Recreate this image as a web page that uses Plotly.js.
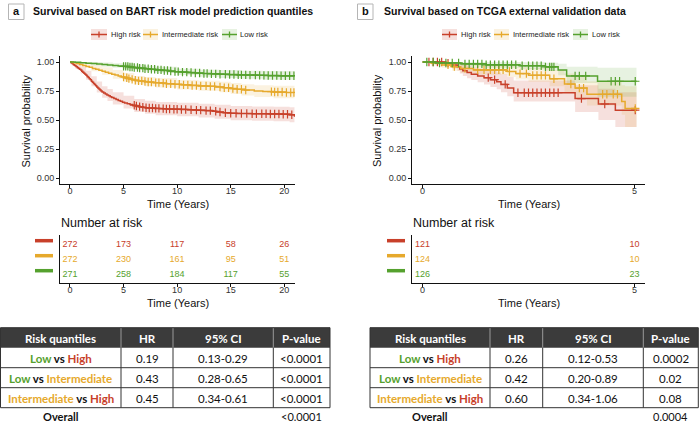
<!DOCTYPE html>
<html><head><meta charset="utf-8">
<script src="https://cdn.plot.ly/plotly-3.0.1.min.js"></script>
<style>html,body{margin:0;padding:0;background:#fff}#chart{width:700px;height:423px}</style>
</head><body><div id="chart"></div>
<script>
// ---------- Panel a: BART risk quantiles (Kaplan-Meier) ----------
const aHighT = [0,0.1,0.2,0.3,0.4,0.5,0.6,0.7,0.8,0.9,1.0,1.1,1.2,1.3,1.4,1.5,1.6,1.7,1.8,1.9,2.0,2.1,2.2,2.3,2.4,2.5,2.6,2.7,2.8,2.9,3.0,3.15,3.3,3.45,3.6,3.75,3.9,4.1,4.3,4.5,4.7,4.9,5.1,5.35,5.6,5.85,6.1,6.4,6.7,7.0,7.4,7.9,8.4,9.0,9.6,10.3,11.0,11.8,12.6,13.3,13.7,14.3,15.0,15.6,17.0,18.6,19.8,20.5,20.95];
const aHighS = [1.0,0.993,0.986,0.979,0.972,0.965,0.958,0.951,0.944,0.937,0.93,0.921,0.912,0.903,0.894,0.886,0.876,0.866,0.856,0.846,0.835,0.825,0.815,0.805,0.795,0.785,0.776,0.767,0.758,0.749,0.741,0.732,0.724,0.716,0.708,0.701,0.694,0.685,0.677,0.669,0.661,0.654,0.647,0.64,0.633,0.627,0.621,0.615,0.61,0.606,0.603,0.6,0.598,0.595,0.593,0.591,0.588,0.585,0.581,0.575,0.569,0.563,0.558,0.556,0.554,0.552,0.55,0.545,0.527];
const aHighBandT = [0,0.5,1,1.5,2,2.5,3,3.5,4,5,6,7,8,10,12,13.5,15,17,19,20.5,20.95];
const aHighLo = [1,0.945,0.9,0.848,0.792,0.738,0.691,0.664,0.634,0.6,0.57,0.553,0.542,0.532,0.522,0.51,0.497,0.494,0.49,0.48,0.46];
const aHighHi = [1,0.985,0.96,0.924,0.878,0.832,0.791,0.768,0.74,0.708,0.681,0.665,0.656,0.648,0.64,0.632,0.62,0.616,0.614,0.61,0.6];
const aHighCens = [6.0,6.2,6.5,6.8,7.1,7.4,7.7,8.0,8.3,8.7,9.0,9.3,9.7,10.0,10.4,10.8,11.3,11.8,12.2,12.7,13.1,13.6,14.0,14.5,15.0,15.5,16.0,16.5,17.0,17.4,17.9,18.3,18.7,19.1,19.5,19.9,20.3,20.7];

const aInterT = [0,0.3,0.6,0.9,1.2,1.5,1.8,2.1,2.4,2.7,3.0,3.3,3.6,3.9,4.2,4.5,4.8,5.1,5.4,5.7,6.0,6.4,6.8,7.3,7.8,8.4,9.0,9.7,10.4,11.2,12.0,12.8,13.6,14.3,15.0,15.6,16.3,17.2,18.0,19.0,20.2,20.95];
const aInterS = [1.0,0.993,0.986,0.978,0.97,0.962,0.954,0.945,0.937,0.929,0.921,0.912,0.903,0.895,0.887,0.879,0.871,0.864,0.857,0.85,0.843,0.837,0.832,0.827,0.822,0.818,0.813,0.808,0.803,0.798,0.794,0.79,0.785,0.778,0.771,0.765,0.758,0.75,0.745,0.741,0.737,0.733];
const aInterBandT = [0,0.5,1,2,3,4,5,6,7,8,10,12,14,15,16,17.2,19,20.95];
const aInterLo = [1,0.978,0.96,0.92,0.89,0.855,0.83,0.805,0.79,0.78,0.762,0.752,0.74,0.725,0.712,0.698,0.688,0.675];
const aInterHi = [1,1,0.995,0.975,0.955,0.93,0.905,0.88,0.87,0.862,0.845,0.838,0.83,0.818,0.808,0.8,0.795,0.79];
const aInterCens = [5.0,5.3,5.5,5.8,6.1,6.4,6.7,7.0,7.3,7.6,8.0,8.3,8.7,9.0,9.4,9.8,10.2,10.6,11.0,11.4,11.8,12.2,12.7,13.1,13.5,14.0,14.4,14.8,15.2,15.6,16.0,16.4,18.8,19.1,19.4,19.8,20.2,20.6,20.9];

const aLowT = [0,0.5,1.0,1.5,2.0,2.5,3.0,3.5,4.0,4.5,5.0,5.5,6.0,6.5,7.0,7.5,8.0,8.6,9.2,9.8,10.4,11.0,11.7,12.4,13.2,14.0,14.8,15.6,16.5,17.5,18.5,19.5,20.95];
const aLowS = [1.0,0.997,0.994,0.99,0.986,0.982,0.978,0.974,0.97,0.966,0.962,0.957,0.952,0.947,0.942,0.937,0.932,0.927,0.922,0.917,0.913,0.909,0.905,0.901,0.898,0.895,0.892,0.889,0.887,0.885,0.883,0.881,0.879];
const aLowBandT = [0,1,2,3,4,5,6,7,8,10,12,14,16,18,20.95];
const aLowLo = [1,0.985,0.972,0.958,0.95,0.94,0.93,0.918,0.908,0.888,0.872,0.862,0.855,0.848,0.835];
const aLowHi = [1,1,1,0.996,0.99,0.985,0.978,0.968,0.96,0.942,0.934,0.93,0.925,0.922,0.92];
const aLowCens = [5.0,5.2,5.4,5.6,5.8,6.0,6.3,6.5,6.8,7.0,7.3,7.6,7.9,8.2,8.5,8.8,9.1,9.4,9.8,10.1,10.5,10.9,11.3,11.7,12.1,12.5,12.8,13.2,13.6,14.0,14.5,14.9,15.3,15.7,16.0,16.4,16.8,17.3,17.7,18.1,18.5,18.9,19.3,19.7,20.1,20.5,20.9];

const aRiskTimes = [0,5,10,15,20];
const aRiskHigh = [272,173,117,58,26];
const aRiskInter = [272,230,161,95,51];
const aRiskLow = [271,258,184,117,55];

// ---------- Panel b: TCGA external validation ----------
const bHighT = [0,0.55,0.7,0.82,0.88,0.95,1.05,1.15,1.3,1.45,1.6,1.75,1.85,2.0,2.15,3.6,4.15,4.55,5.05];
const bHighS = [1,0.99,0.975,0.96,0.94,0.925,0.91,0.895,0.88,0.865,0.848,0.83,0.807,0.775,0.735,0.685,0.638,0.585,0.585];
const bHighLo = [1,0.97,0.945,0.925,0.9,0.88,0.86,0.845,0.825,0.805,0.785,0.765,0.74,0.705,0.66,0.57,0.5,0.44,0.44];
const bHighHi = [1,1,1,0.995,0.985,0.975,0.965,0.955,0.945,0.935,0.925,0.91,0.895,0.87,0.84,0.8,0.77,0.74,0.74];
const bHighCens = [0.15,0.25,0.35,0.45,0.6,1.55,1.7,1.95,2.25,2.4,2.5,2.6,2.7,2.8,2.9,3.0,3.1,3.2,3.75,4.3,5.02];

const bInterT = [0,0.2,0.45,0.7,0.9,1.2,2.0,2.2,2.5,3.0,3.35,3.6,3.88,4.7,4.78,5.05];
const bInterS = [1,0.99,0.975,0.96,0.945,0.932,0.918,0.9,0.885,0.855,0.81,0.775,0.722,0.66,0.6,0.6];
const bInterLo = [1,0.97,0.95,0.925,0.905,0.89,0.87,0.85,0.83,0.79,0.735,0.69,0.625,0.545,0.44,0.44];
const bInterHi = [1,1,1,0.997,0.99,0.98,0.97,0.96,0.95,0.93,0.9,0.875,0.835,0.8,0.79,0.79];
const bInterCens = [0.6,0.75,1.0,1.3,1.45,1.6,1.7,1.8,1.9,2.05,2.3,2.45,2.6,2.7,2.8,2.9,3.1,3.5,3.7,3.8,4.25,4.35,4.5,4.6,5.02];

const bLowT = [0,0.3,0.9,1.5,2.3,2.9,3.2,3.4,4.13,5.05];
const bLowS = [1,0.992,0.984,0.976,0.968,0.958,0.93,0.88,0.834,0.834];
const bLowLo = [1,0.977,0.962,0.95,0.937,0.925,0.885,0.82,0.7,0.7];
const bLowHi = [1,1,1,1,0.998,0.993,0.985,0.96,0.95,0.95];
const bLowCens = [0.1,0.25,0.4,0.55,0.7,0.85,1.0,1.1,1.2,1.3,1.4,1.5,1.6,1.7,1.8,1.9,2.0,2.1,2.2,2.35,2.5,2.6,2.7,2.8,2.9,3.0,3.05,3.1,3.6,3.7,3.85,4.45,4.55,4.65,5.02];

const bRiskTimes = [0,5];
const bRiskHigh = [121,10];
const bRiskInter = [124,10];
const bRiskLow = [126,23];

// ---------- Hazard ratio tables ----------
const tblCols = ['Risk quantiles','HR','95% CI','P-value'];
const compFirst = ['Low','Low','Intermediate'];
const compSecond = ['High','Intermediate','High'];
const aHR = ['0.19','0.43','0.45'];
const aCI = ['0.13-0.29','0.28-0.65','0.34-0.61'];
const aP = ['&lt;0.0001','&lt;0.0001','&lt;0.0001'];
const aOverall = '&lt;0.0001';
const bHR = ['0.26','0.42','0.60'];
const bCI = ['0.12-0.53','0.20-0.89','0.34-1.06'];
const bP = ['0.0002','0.02','0.08'];
const bOverall = '0.0004';

const stratNames = ['High risk','Intermediate risk','Low risk'];

// ---------- styling ----------
const RED = '#C8402A', YEL = '#E6A92C', GRN = '#55A12E';
const FILL = {[RED]:'rgba(200,64,42,0.16)', [YEL]:'rgba(230,169,44,0.15)', [GRN]:'rgba(85,161,46,0.14)'};
const colorOf = {'High':RED,'Intermediate':YEL,'Low':GRN};
const W = 700, H = 423;
const px = x => x / W, py = y => 1 - y / H;
const TXT = 'Liberation Sans, Arial, sans-serif';
const TBL = 'Lato, sans-serif';

function stepVal(T, S, t) { let v = S[0]; for (let i = 0; i < T.length; i++) if (T[i] <= t) v = S[i]; return v; }

const traces = [];
function addBand(xa, ya, BT, LO, HI, col) {
  traces.push({type:'scatter', mode:'lines', x:BT, y:LO, xaxis:xa, yaxis:ya, line:{shape:'hv', width:0, color:FILL[col]}, hoverinfo:'skip'});
  traces.push({type:'scatter', mode:'lines', x:BT, y:HI, xaxis:xa, yaxis:ya, line:{shape:'hv', width:0, color:FILL[col]}, fill:'tonexty', fillcolor:FILL[col], hoverinfo:'skip'});
}
function addLines(xa, ya, T, S, C, col) {
  traces.push({type:'scatter', mode:'lines', x:T, y:S, xaxis:xa, yaxis:ya, line:{shape:'hv', width:1.5, color:col}});
  traces.push({type:'scatter', mode:'markers', x:C, y:C.map(t => stepVal(T, S, t)), xaxis:xa, yaxis:ya,
    marker:{symbol:'cross-thin', size:6, color:col, line:{width:1.2, color:col}}});
}
addBand('x','y',aHighBandT,aHighLo,aHighHi,RED);
addBand('x','y',aInterBandT,aInterLo,aInterHi,YEL);
addBand('x','y',aLowBandT,aLowLo,aLowHi,GRN);
addLines('x','y',aHighT,aHighS,aHighCens,RED);
addLines('x','y',aInterT,aInterS,aInterCens,YEL);
addLines('x','y',aLowT,aLowS,aLowCens,GRN);
addBand('x3','y3',bHighT,bHighLo,bHighHi,RED);
addBand('x3','y3',bInterT,bInterLo,bInterHi,YEL);
addBand('x3','y3',bLowT,bLowLo,bLowHi,GRN);
addLines('x3','y3',bHighT,bHighS,bHighCens,RED);
addLines('x3','y3',bInterT,bInterS,bInterCens,YEL);
addLines('x3','y3',bLowT,bLowS,bLowCens,GRN);

function addRisk(xa, ya, times, counts, row, col) {
  traces.push({type:'scatter', mode:'text', x:times, y:times.map(() => row), text:counts.map(String), xaxis:xa, yaxis:ya,
    textfont:{family:TXT, size:9, color:col}, textposition:'middle center', hoverinfo:'skip'});
}
addRisk('x2','y2',aRiskTimes,aRiskHigh,3,RED);
addRisk('x2','y2',aRiskTimes,aRiskInter,2,YEL);
addRisk('x2','y2',aRiskTimes,aRiskLow,1,GRN);
addRisk('x4','y4',bRiskTimes,bRiskHigh,3,RED);
addRisk('x4','y4',bRiskTimes,bRiskInter,2,YEL);
addRisk('x4','y4',bRiskTimes,bRiskLow,1,GRN);

// ---------- axes ----------
const axBase = {showgrid:false, zeroline:false, showline:true, linecolor:'#111', linewidth:1, ticks:'outside', ticklen:3,
  tickcolor:'#111', tickfont:{family:TXT, size:9, color:'#333'}, fixedrange:true};
const xTick = {ticklabelstandoff:-5};
const kmY = [py(183.8), py(56.2)];
const rkY = [py(283), py(235)];
const yTicks = {tickvals:[0,0.25,0.5,0.75,1], ticktext:['0.00','0.25','0.50','0.75','1.00']};
const layout = {
  width:W, height:H, margin:{l:0, r:0, t:0, b:0}, paper_bgcolor:'#fff', plot_bgcolor:'rgba(0,0,0,0)', showlegend:false,
  xaxis: Object.assign({}, axBase, xTick, {domain:[px(60), px(295)], range:[-0.93, 21], tickvals:[0,5,10,15,20], anchor:'y'}),
  yaxis: Object.assign({}, axBase, yTicks, {domain:kmY, range:[-0.05, 1.05], anchor:'x'}),
  xaxis2: Object.assign({}, axBase, xTick, {domain:[px(60), px(295)], range:[-0.93, 21], tickvals:[0,5,10,15,20], anchor:'y2'}),
  yaxis2: Object.assign({}, axBase, {domain:rkY, range:[0.47, 3.67], ticks:'', showticklabels:false, anchor:'x2'}),
  xaxis3: Object.assign({}, axBase, xTick, {domain:[px(412), px(645)], range:[-0.25, 5.25], tickvals:[0,5], anchor:'y3'}),
  yaxis3: Object.assign({}, axBase, yTicks, {domain:kmY, range:[-0.05, 1.05], anchor:'x3'}),
  xaxis4: Object.assign({}, axBase, xTick, {domain:[px(412), px(645)], range:[-0.25, 5.25], tickvals:[0,5], anchor:'y4'}),
  yaxis4: Object.assign({}, axBase, {domain:rkY, range:[0.47, 3.67], ticks:'', showticklabels:false, anchor:'x4'}),
  shapes: [], annotations: []
};

function ann(x, y, text, opts) {
  layout.annotations.push(Object.assign({xref:'paper', yref:'paper', x:px(x), y:py(y), text:text, showarrow:false,
    xanchor:'center', yanchor:'middle', font:{family:TXT, size:11, color:'#111'}}, opts || {}));
}
function rect(x0, y0, x1, y1, fill, line, lw) {
  layout.shapes.push({type:'rect', xref:'paper', yref:'paper', x0:px(x0), x1:px(x1), y0:py(y1), y1:py(y0),
    fillcolor:fill, line:{color:line || 'rgba(0,0,0,0)', width:lw || 0}, layer:'above'});
}
function seg(x0, y0, x1, y1, col, lw) {
  layout.shapes.push({type:'line', xref:'paper', yref:'paper', x0:px(x0), x1:px(x1), y0:py(y0), y1:py(y1), line:{color:col, width:lw}, layer:'above'});
}

// panel letters & titles
rect(8.5, 4, 24, 19.5, '#fff', '#b5b5b5', 1);
ann(16.2, 11.5, '<b>a</b>', {font:{family:TXT, size:11, color:'#111'}});
ann(31, 11.5, '<b>Survival based on BART risk model prediction quantiles</b>', {xanchor:'left', font:{family:TXT, size:10.5, color:'#111'}});
rect(357.5, 4, 373, 19.5, '#fff', '#b5b5b5', 1);
ann(365.2, 11.5, '<b>b</b>', {font:{family:TXT, size:11, color:'#111'}});
ann(382, 11.5, '<b>Survival based on TCGA external validation data</b>', {xanchor:'left', font:{family:TXT, size:10.5, color:'#111'}});

// legends
function legendKey(x0, x1, col, label) {
  rect(x0, 29, x1, 40, FILL[col]);
  seg(x0, 34.5, x1, 34.5, col, 1.5);
  seg((x0 + x1) / 2, 31.5, (x0 + x1) / 2, 37.5, col, 1.3);
  ann(x1 + 1.5, 34.5, label, {xanchor:'left', font:{family:TXT, size:7.6, color:'#222'}});
}
const legendCols = [RED, YEL, GRN];
[[91,107],[143,158],[222,237]].forEach((k, i) => legendKey(k[0], k[1], legendCols[i], stratNames[i]));
[[442,457],[494,509],[573,588]].forEach((k, i) => legendKey(k[0], k[1], legendCols[i], stratNames[i]));

// axis titles
ann(25.5, 121, 'Survival probability', {textangle:-90});
ann(377, 121, 'Survival probability', {textangle:-90});
ann(177.5, 204, 'Time (Years)');
ann(529, 204, 'Time (Years)');
ann(177.5, 303, 'Time (Years)');
ann(529, 303, 'Time (Years)');
ann(59, 223, 'Number at risk', {xanchor:'left', font:{family:TXT, size:12.5, color:'#111'}});
ann(411, 223, 'Number at risk', {xanchor:'left', font:{family:TXT, size:12.5, color:'#111'}});

// risk-table strata bars
[240.7, 255.7, 270.7].forEach((y, i) => { seg(35, y, 53, y, legendCols[i], 3.5); seg(387, y, 405, y, legendCols[i], 3.5); });

// HR tables (drawn with shapes and annotations)
function compLabel(i) {
  return '<b><span style="color:' + colorOf[compFirst[i]] + '">' + compFirst[i] + '</span> vs <span style="color:' +
    colorOf[compSecond[i]] + '">' + compSecond[i] + '</span></b>';
}
function drawTable(X, hr, ci, p, overall) {
  const Y = [327.7, 347.7, 367.7, 387.7, 407.7];
  rect(X[0], Y[0], X[4], Y[1], '#3B3B3B');
  for (let c = 1; c < 4; c++) seg(X[c], Y[0], X[c], Y[1], '#9a9a9a', 1);
  for (let c = 1; c < 4; c++) seg(X[c], Y[1], X[c], Y[4], '#333', 1);
  for (let r = 2; r < 4; r++) seg(X[0], Y[r], X[4], Y[r], '#333', 1);
  rect(X[0], Y[0], X[4], Y[4], 'rgba(0,0,0,0)', '#333', 1);
  const cx = c => (X[c] + X[c + 1]) / 2;
  const cy = r => (Y[r] + Y[r + 1]) / 2;
  tblCols.forEach((t, c) => ann(cx(c), cy(0) + 0.5, '<b>' + t + '</b>', {font:{family:TBL, size:11.5, color:'#fff'}}));
  const cols = [compFirst.map((_, i) => compLabel(i)), hr, ci, p];
  cols.forEach((vals, c) => vals.forEach((v, r) => ann(cx(c), cy(r + 1) + 0.5, v, {font:{family:TBL, size:11.5, color:'#111'}})));
  ann(cx(0), 416.2, '<b>Overall</b>', {font:{family:TBL, size:11, color:'#111'}});
  ann(cx(3), 416.2, overall, {font:{family:TBL, size:11, color:'#111'}});
}
drawTable([0.5, 121, 173, 273.3, 330], aHR, aCI, aP, aOverall);
drawTable([370, 490, 542.7, 643.3, 698.3], bHR, bCI, bP, bOverall);

Plotly.newPlot('chart', traces, layout, {staticPlot:true, displayModeBar:false});
</script></body></html>
